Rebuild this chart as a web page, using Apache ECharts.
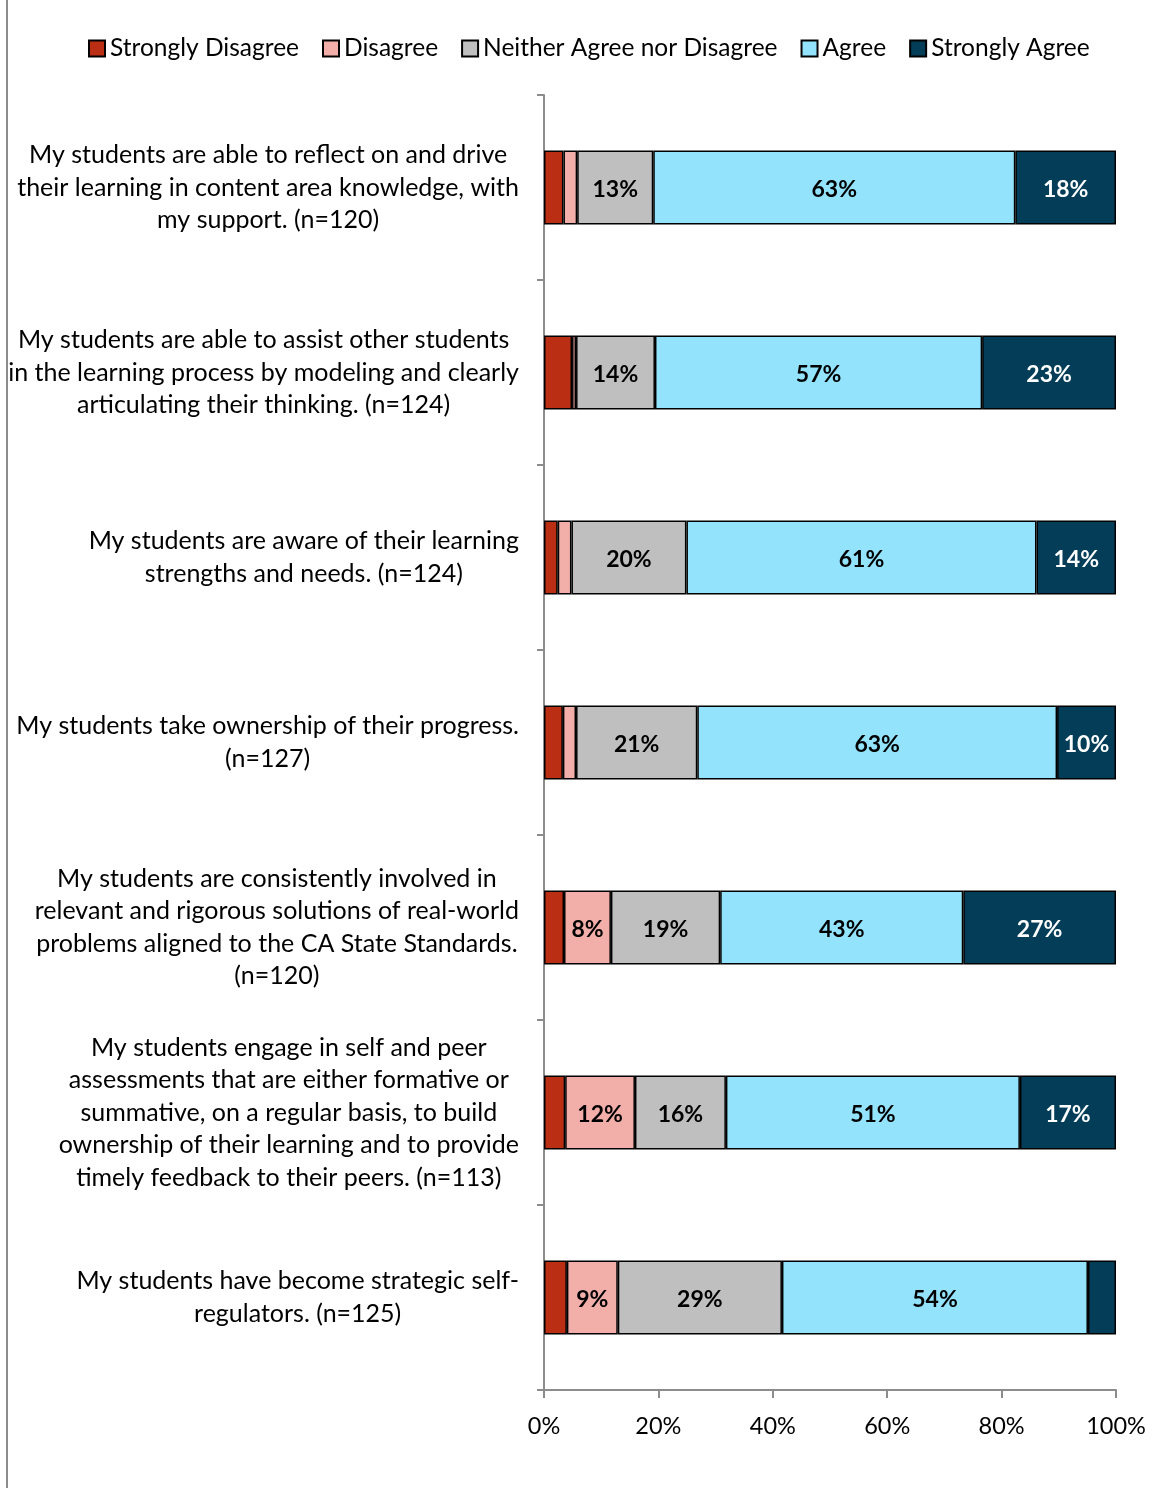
<!DOCTYPE html>
<html>
<head>
<meta charset="utf-8">
<script src="https://cdn.jsdelivr.net/npm/echarts@6/dist/echarts.min.js"></script>
<style>html,body{margin:0;padding:0;background:#fff}#c{width:1154px;height:1488px}</style>
</head>
<body>
<div id="c"></div>
<script>
const categories = [
  "My students are able to reflect on and drive\ntheir learning in content area knowledge, with\nmy support. (n=120)",
  "My students are able to assist other students\nin the learning process by modeling and clearly\narticulating their thinking. (n=124)",
  "My students are aware of their learning\nstrengths and needs. (n=124)",
  "My students take ownership of their progress.\n(n=127)",
  "My students are consistently involved in\nrelevant and rigorous solutions of real-world\nproblems aligned to the CA State Standards.\n(n=120)",
  "My students engage in self and peer\nassessments that are either formative or\nsummative, on a regular basis, to build\nownership of their learning and to provide\ntimely feedback to their peers. (n=113)",
  "My students have become strategic self-\nregulators. (n=125)"
];
const seriesNames = ["Strongly Disagree", "Disagree", "Neither Agree nor Disagree", "Agree", "Strongly Agree"];
const stronglyDisagree = [3.4, 4.9, 2.4, 3.3, 3.5, 3.7, 4.0];
const disagree = [2.4, 0.7, 2.4, 2.3, 8.2, 12.2, 8.9];
const neither = [13.3, 13.8, 20.1, 21.2, 19.1, 15.9, 28.7];
const agree = [63.3, 57.2, 61.2, 62.9, 42.5, 51.4, 53.5];
const stronglyAgree = [17.6, 23.4, 13.9, 10.3, 26.7, 16.8, 4.9];
const xTicks = [0, 20, 40, 60, 80, 100];

const colors = ["#BA2E14", "#F2AFAA", "#BFBFBF", "#93E3FD", "#033D57"];
const labelColors = ["#000", "#000", "#000", "#000", "#fff"];
const allData = [stronglyDisagree, disagree, neither, agree, stronglyAgree];
const FONT = "Lato, 'Open Sans', sans-serif";

const chart = echarts.init(document.getElementById('c'), null, {renderer: 'canvas'});
const option = {
  animation: false,
  backgroundColor: '#fff',
  textStyle: {fontFamily: FONT},
  legend: {
    left: 88, top: 36,
    itemWidth: 16, itemHeight: 16, itemGap: 23, padding: [0, 0, 0, 0],
    icon: 'rect',
    textStyle: {fontSize: 24.5, color: '#000', fontFamily: FONT, padding: [0, 0, 0, 0]},
    data: seriesNames
  },
  grid: {left: 544, right: 38, top: 95, bottom: 98, containLabel: false},
  xAxis: {
    type: 'value', min: xTicks[0], max: xTicks[xTicks.length - 1], interval: 20,
    axisLine: {show: true, lineStyle: {color: '#8c8c8c', width: 2}},
    axisTick: {show: true, length: 8, lineStyle: {color: '#8c8c8c', width: 2}},
    splitLine: {show: false},
    axisLabel: {formatter: '{value}%', fontSize: 23.5, color: '#000', margin: 24, fontFamily: FONT}
  },
  yAxis: {
    type: 'category', inverse: true, data: categories,
    axisLine: {show: true, lineStyle: {color: '#8c8c8c', width: 2}},
    axisTick: {show: true, length: 7, lineStyle: {color: '#8c8c8c', width: 2}},
    axisLabel: {
      margin: 25, color: '#000', fontSize: 25, fontFamily: FONT, align: 'right',
      formatter: function (v) { return v.split('\n').map(l => '{c|' + l + '}').join('\n'); },
      rich: {c: {align: 'center', fontSize: 25, lineHeight: 32.5, color: '#000', fontFamily: FONT}}
    }
  },
  series: seriesNames.map((name, i) => ({
    name: name, type: 'bar', stack: 'total', barWidth: 74,
    data: allData[i],
    itemStyle: {color: colors[i], borderColor: '#000', borderWidth: 1.5},
    label: {
      show: true, position: 'inside', color: labelColors[i], fontSize: 23, fontWeight: 'bold', fontFamily: FONT,
      offset: [0, 2],
      formatter: p => p.value >= 6 ? Math.round(p.value) + '%' : ''
    }
  })),
  graphic: [{type: 'line', shape: {x1: 7, y1: 0, x2: 7, y2: 1488}, style: {stroke: '#8c8c8c', lineWidth: 2}}]
};
chart.setOption(option);
</script>
</body>
</html>
